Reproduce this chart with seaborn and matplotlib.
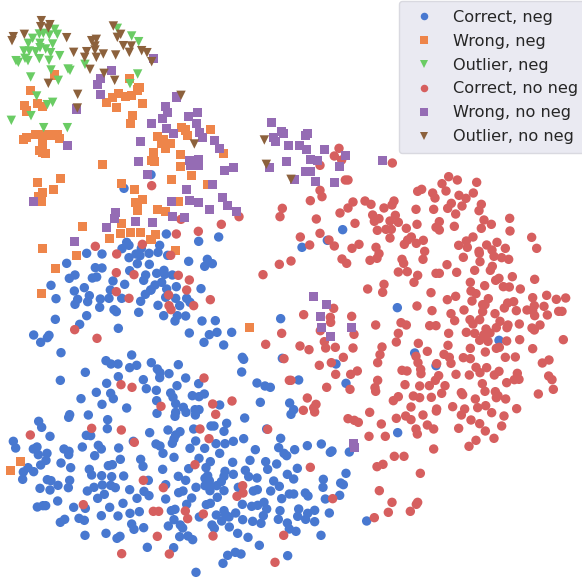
import matplotlib
matplotlib.use("Agg")
import matplotlib.pyplot as plt
import pandas as pd
import seaborn as sns

# Positions, in 3x-zoom units, one list per quadrant.
TL_OFF, TR_OFF, BL_OFF, BR_OFF = (0, 0), (873, 0), (0, 867), (873, 867)

outlier_no_neg_tl = [(124,62),(150,74),(122,80),(145,84),(40,110),(36,122),(73,103),(200,113),(340,78),(362,103),(352,112),(275,122),(289,118),(285,138),(285,150),(370,137),(394,138),(221,157),(260,155),(254,172),(289,172),(310,162),(347,165),(388,157),(425,152),(441,158),(455,185),(270,208),(312,220),(344,241),(145,250),(233,283),(232,324),(543,286),(583,432),(793,420),(799,493),(873,538)]

outlier_neg_tl = [(352,85),(164,88),(118,102),(130,100),(148,105),(172,103),(98,115),(85,130),(120,130),(158,132),(120,143),(137,147),(72,153),(88,153),(107,155),(152,158),(179,167),(48,182),(55,187),(75,175),(84,182),(118,176),(147,181),(395,108),(416,125),(255,193),(153,210),(204,207),(210,211),(92,231),(175,241),(413,222),(390,251),(110,288),(158,307),(142,314),(93,347),(34,361),(131,383),(202,383)]

wrong_neg_tl = [(163,225),(388,235),(91,271),(417,263),(412,270),(355,280),(338,292),(376,289),(394,286),(319,307),(349,322),(427,310),(73,316),(112,310),(127,319),(79,333),(397,346),(391,370),(544,382),(556,390),(631,388),(562,406),(473,409),(491,418),(510,430),(485,430),(497,445),(107,403),(80,412),(70,418),(125,404),(150,405),(173,405),(178,416),(127,425),(127,440),(118,451),(127,458),(137,460),(460,458),(541,463),(670,460),(455,481),(463,484),(307,493),(541,499),(574,526),(514,538),(181,535),(112,547),(364,550),(623,553),(160,568),(403,568),(127,577),(115,590),(125,604),(427,598),(406,607),(535,604),(413,615),(412,632),(472,628),(496,634),(365,670),(247,679),(361,700),(391,697),(421,697),(466,703),(453,718),(328,715),(127,745),(526,751),(229,766),(166,805),(124,880)]
wrong_neg_bl = [(748,115),(61,517),(31,544)]

wrong_no_neg_tl = [(460,175),(334,211),(301,235),(292,253),(301,283),(529,291),(229,327),(496,319),(502,337),(592,337),(566,349),(487,355),(589,370),(454,370),(499,385),(520,400),(598,397),(607,412),(421,424),(643,421),(658,445),(202,436),(814,367),(845,394),(851,400),(821,412),(826,424),(866,436),(415,484),(569,481),(595,478),(571,496),(595,496),(673,511),(700,502),(808,502),(859,484),(442,523),(637,553),(559,568),(667,592),(568,601),(595,607),(514,604),(100,604),(682,616),(628,628),(709,634),(346,637),(343,655),(406,664),(457,667),(517,649),(553,652),(319,682),(223,724)]
wrong_no_neg_tr = [(49,400),(43,406),(25,436),(46,448),(100,448),(163,466),(58,478),(79,481),(145,499),(274,481),(43,514),(58,514),(10,538),(73,544),(130,547)]
wrong_no_neg_br = [(67,22),(106,46),(88,82),(91,115),(181,115),(118,142),(187,463),(190,475)]

correct_neg_tl = [(453,524),(372,565),(499,702),(596,724),(656,711),(380,727),(387,736),(366,746),(260,760),(306,762),(479,736),(424,745),(408,762),(420,767),(447,760),(474,757),(503,766),(387,773),(566,784),(622,778),(637,791),(614,799),(200,790),(286,803),(306,804),(412,791),(448,793),(389,812),(225,825),(208,835),(277,834),(290,831),(437,825),(470,820),(492,811),(494,823),(517,825),(431,841),(339,843),(374,853),(465,855),(485,847),(153,856),(253,863),(331,870),(223,873),(453,870),(500,867),(529,860),(603,866)]
correct_neg_tr = [(155,689),(109,721),(33,742)]
correct_neg_bl = [(168,29),(268,20),(233,31),(263,38),(225,46),(301,30),(327,28),(299,55),(365,28),(422,37),(436,16),(452,3),(497,25),(527,28),(560,28),(474,49),(539,50),(570,40),(342,62),(349,68),(416,70),(260,80),(166,91),(491,80),(532,80),(557,81),(525,96),(606,96),(646,95),(239,106),(355,118),(842,89),(101,138),(147,139),(142,146),(122,160),(568,132),(628,137),(651,130),(695,130),(612,160),(671,168),(183,191),(395,198),(727,205),(731,211),(318,215),(333,225),(354,225),(389,236),(410,229),(454,221),(535,227),(472,240),(480,251),(479,266),(507,254),(557,267),(256,250),(725,249),(847,208),(181,274),(355,263),(320,283),(430,272),(596,284),(771,282),(795,291),(811,295),(531,290),(439,299),(469,304),(289,310),(332,313),(340,329),(512,312),(519,325),(577,320),(597,323),(613,315),(243,329),(470,335),(527,344),(659,348),(781,340),(869,342),(306,346),(380,357),(550,355),(471,373),(527,370),(558,370),(525,382),(585,362),(597,362),(586,378),(873,376),(209,377),(206,385),(265,378),(734,387),(323,392),(116,397),(125,415),(680,403),(633,411),(642,411),(322,419),(504,423),(581,420),(540,428),(527,438),(449,431),(672,427),(800,420),(259,439),(272,440),(150,442),(522,450),(731,449),(842,448),(40,457),(400,457),(587,456),(468,465),(480,471),(517,463),(648,464),(675,464),(700,457),(47,477),(100,480),(111,474),(295,469),(247,474),(304,480),(356,477),(570,478),(614,478),(836,476),(766,482),(192,480),(207,487),(206,497),(141,493),(115,497),(489,493),(659,493),(284,500),(852,493),(860,500),(522,505),(138,514),(361,511),(422,511),(597,508),(750,514),(797,518),(183,522),(122,528),(325,530),(337,527),(429,532),(631,518),(698,520),(830,525),(212,536),(84,536),(70,549),(101,548),(268,541),(488,541),(566,539),(618,536),(736,544),(803,541),(275,558),(305,560),(335,563),(371,561),(535,562),(623,560),(700,556),(675,547),(862,556),(672,562),(746,563),(771,567),(68,571),(142,572),(153,575),(209,574),(445,574),(557,574),(615,568),(628,575),(664,578),(821,576),(174,589),(307,588),(332,589),(346,596),(282,595),(120,598),(205,596),(150,603),(262,606),(389,602),(497,587),(588,595),(615,590),(630,590),(650,590),(715,595),(838,592),(630,605),(672,605),(536,611),(549,606),(432,607),(313,616),(447,620),(293,628),(411,628),(497,630),(575,627),(652,625),(760,606),(772,602),(812,606),(845,629),(868,615),(173,636),(369,643),(560,646),(619,647),(631,643),(727,646),(755,652),(773,649),(792,640),(112,654),(129,650),(137,650),(221,655),(256,658),(329,655),(514,665),(525,661),(800,660),(840,665),(304,680),(354,681),(390,673),(418,668),(649,678),(672,665),(677,678),(707,672),(687,684),(598,684),(665,696),(522,692),(728,692),(758,697),(790,680),(783,703),(835,691),(237,688),(253,694),(181,700),(194,691),(395,705),(402,721),(431,716),(505,711),(541,708),(548,717),(636,708),(643,718),(688,714),(862,702),(868,720),(255,739),(318,733),(351,748),(360,742),(539,743),(564,741),(578,752),(713,733),(744,745),(442,775),(521,776),(778,769),(683,799),(706,790),(723,795),(669,823),(863,800),(588,850)]
correct_neg_br = [(319,56),(624,154),(371,192),(135,225),(435,230),(23,273),(165,283),(8,362),(320,431),(91,465),(49,470),(11,482),(118,490),(123,486),(175,489),(19,538),(8,570),(165,553),(97,571),(96,595),(149,582),(157,587),(146,619),(8,615),(43,612),(51,621),(103,630),(23,660),(71,664),(115,672),(50,673),(20,682),(44,691),(71,698),(227,696),(15,727),(90,739)]

correct_no_neg_tl = [(455,557),(543,658),(717,650),(847,625),(840,650),(664,673),(595,694),(529,702),(427,733),(286,739),(350,762),(512,766),(838,793),(789,824),(349,818),(402,824),(535,826),(568,840),(560,870),(349,875)]
correct_no_neg_bl = [(387,28),(506,18),(631,32),(581,50),(507,50),(513,62),(224,122),(291,148),(845,133),(797,166),(852,209),(612,267),(868,274),(363,287),(396,295),(696,336),(638,345),(483,352),(647,376),(275,418),(364,423),(600,420),(803,421),(91,438),(627,449),(403,460),(585,527),(430,574),(490,596),(728,590),(729,612),(711,622),(250,647),(460,667),(476,667),(556,666),(610,675),(563,689),(472,742),(639,741),(851,739),(365,794),(508,795),(825,820)]
correct_no_neg_tr = [(144,445),(130,468),(152,480),(87,496),(304,489),(163,540),(171,540),(473,530),(499,540),(453,551),(557,547),(380,574),(392,568),(425,579),(465,573),(87,571),(93,590),(58,602),(432,594),(504,586),(525,595),(547,579),(222,603),(240,613),(186,606),(309,603),(303,615),(279,624),(171,624),(147,639),(375,628),(428,628),(481,610),(470,625),(513,618),(571,613),(564,632),(494,642),(245,645),(264,656),(250,664),(313,646),(297,663),(322,667),(76,657),(192,670),(378,673),(445,665),(579,660),(656,655),(601,673),(490,679),(435,682),(445,690),(571,685),(657,693),(346,685),(259,691),(285,688),(301,688),(87,700),(28,711),(297,714),(361,711),(397,721),(350,720),(340,733),(376,730),(114,720),(56,735),(130,738),(204,733),(183,745),(255,742),(546,711),(526,723),(503,736),(529,742),(587,735),(618,727),(603,750),(643,745),(722,712),(737,745),(401,754),(564,754),(565,760),(264,761),(258,775),(237,781),(153,777),(0,783),(167,790),(333,778),(338,790),(396,778),(517,772),(609,769),(632,773),(653,778),(567,785),(468,794),(322,816),(349,815),(380,826),(435,820),(445,820),(497,817),(551,811),(604,799),(598,811),(614,841),(624,835),(664,830),(731,838),(279,853),(369,847),(538,847),(581,857),(637,860),(655,861),(688,867)]
correct_no_neg_br = [(230,0),(275,10),(420,11),(540,6),(555,14),(494,22),(469,32),(543,36),(592,29),(582,47),(575,47),(378,51),(128,58),(423,65),(519,63),(480,74),(575,68),(650,42),(668,38),(640,57),(612,74),(676,65),(708,63),(730,50),(725,65),(759,52),(731,80),(769,78),(796,31),(824,27),(767,19),(725,26),(803,67),(813,67),(38,77),(118,85),(182,82),(119,100),(491,95),(537,92),(546,105),(566,92),(627,97),(254,108),(330,101),(346,108),(416,110),(435,110),(651,108),(648,116),(616,116),(685,105),(747,108),(723,117),(730,123),(88,125),(189,136),(322,133),(473,133),(526,130),(551,133),(585,120),(597,132),(578,138),(100,158),(316,159),(382,163),(566,154),(591,157),(647,156),(686,152),(817,152),(27,171),(104,177),(133,175),(186,177),(54,182),(273,174),(471,169),(538,178),(616,178),(625,175),(725,179),(583,189),(409,187),(267,197),(375,202),(459,196),(475,205),(517,206),(538,209),(643,205),(673,204),(157,205),(260,221),(381,221),(437,224),(480,223),(121,221),(85,229),(754,222),(774,213),(555,235),(587,236),(389,241),(333,244),(348,246),(567,251),(624,247),(610,258),(134,256),(179,256),(199,246),(390,254),(495,256),(535,258),(443,260),(679,253),(773,261),(783,272),(670,272),(684,271),(433,274),(0,274),(260,274),(342,287),(386,291),(415,290),(462,290),(574,284),(647,281),(107,295),(177,301),(252,296),(254,307),(787,301),(511,311),(515,317),(452,313),(582,307),(613,308),(621,320),(742,315),(367,321),(386,326),(421,325),(322,323),(307,335),(616,326),(644,330),(553,330),(49,327),(75,346),(68,357),(71,369),(37,364),(360,354),(560,356),(584,350),(485,353),(437,360),(436,366),(521,360),(677,359),(236,370),(602,371),(511,378),(396,378),(344,381),(360,392),(316,388),(171,389),(190,394),(202,400),(540,393),(639,381),(566,404),(271,405),(409,408),(375,420),(428,420),(632,411),(503,418),(583,426),(379,435),(234,442),(283,442),(555,454),(609,448),(534,472),(428,480),(310,502),(339,502),(58,535),(258,533),(276,526),(388,553),(265,605),(125,629),(303,640),(380,640),(376,646),(358,667),(292,670),(250,686)]

labels = ["Correct, neg", "Wrong, neg", "Outlier, neg",
          "Correct, no neg", "Wrong, no neg", "Outlier, no neg"]
markers = ["o", "s", "v", "o", "s", "v"]

groups = [
    (labels[0], [(correct_neg_tl, TL_OFF), (correct_neg_tr, TR_OFF), (correct_neg_bl, BL_OFF), (correct_neg_br, BR_OFF)]),
    (labels[1], [(wrong_neg_tl, TL_OFF), (wrong_neg_bl, BL_OFF)]),
    (labels[2], [(outlier_neg_tl, TL_OFF)]),
    (labels[3], [(correct_no_neg_tl, TL_OFF), (correct_no_neg_tr, TR_OFF), (correct_no_neg_bl, BL_OFF), (correct_no_neg_br, BR_OFF)]),
    (labels[4], [(wrong_no_neg_tl, TL_OFF), (wrong_no_neg_tr, TR_OFF), (wrong_no_neg_br, BR_OFF)]),
    (labels[5], [(outlier_no_neg_tl, TL_OFF)]),
]
rows = []
for name, parts in groups:
    for pts, (dx, dy) in parts:
        rows += [(x + dx, y + dy, name) for x, y in pts]
df = pd.DataFrame(rows, columns=["x", "y", "kind"])

sns.set_theme(style="white", palette="muted")
fig = plt.figure(figsize=(5.82, 5.79), dpi=100)
ax = fig.add_axes([0, 0, 1, 1])
sns.scatterplot(data=df, x="x", y="y", hue="kind", style="kind",
                hue_order=labels, style_order=labels,
                markers=dict(zip(labels, markers)), palette="muted",
                s=46, linewidth=0, ax=ax)
ax.set_xlim(0, 1746)
ax.set_ylim(1737, 0)
ax.axis("off")
ax.legend(loc="upper left", bbox_to_anchor=(399 / 582, 1 - 1 / 579),
          borderaxespad=0, frameon=True, facecolor="#eaeaf2", edgecolor="#d9d9e0",
          framealpha=1, fontsize=11.6, labelspacing=0.55, borderpad=0.55, markerscale=0.8)
fig.savefig("out.png", dpi=100)
